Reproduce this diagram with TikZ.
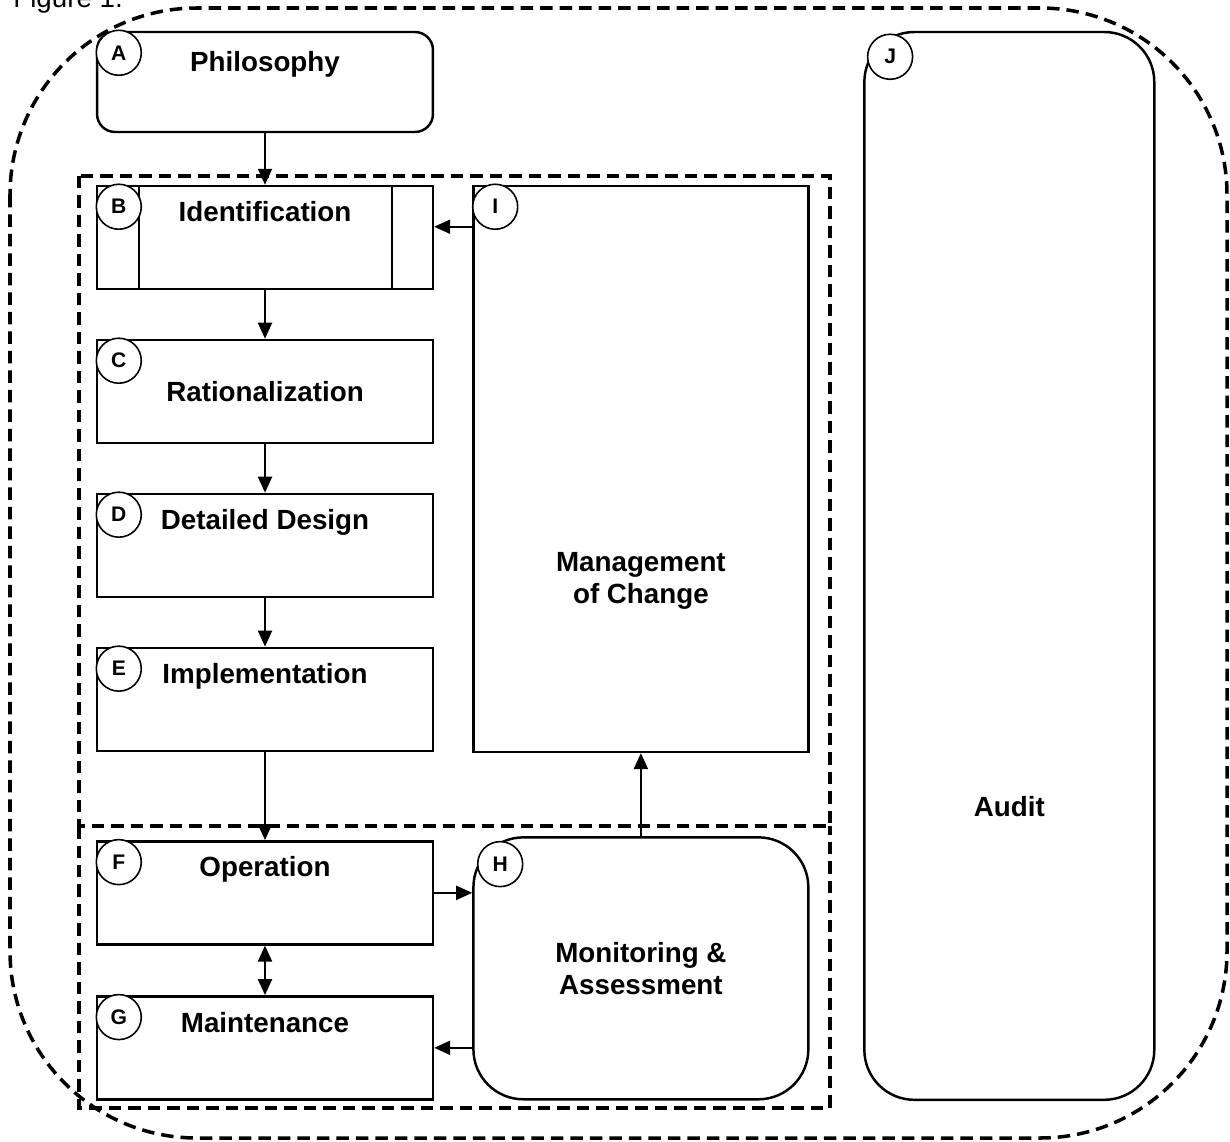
\documentclass[tikz,border=0pt]{standalone}
\usepackage{fontspec}
\setmainfont{Liberation Sans}
\usetikzlibrary{positioning,arrows.meta}

\tikzset{
  box/.style={draw, line width=1.4pt, minimum width=6.72cm, minimum height=2.06cm, inner sep=0pt},
  tag/.style={draw, circle, fill=white, line width=0.9pt, minimum size=0.9cm, inner sep=0pt, font=\bfseries\fontsize{12}{12}\selectfont},
  txt/.style={font=\bfseries\fontsize{15.8}{18.2}\selectfont, align=center},
  arr/.style={-{Triangle[length=0.32cm,width=0.28cm]}, line width=1.2pt},
  zone/.style={dash pattern=on 0.25cm off 0.14cm, line width=2pt}
}

\begin{document}
\begin{tikzpicture}[x=0.02cm, y=-0.02cm, node distance=3.08cm]
    \useasboundingbox (0,0) rectangle (1230,1142);

    % caption, cut at the top edge
    \node[anchor=base west, font=\fontsize{15.8}{18}\selectfont, inner sep=0pt] (figlbl) at (13,8) {Figure 1.};

    % dashed zones
    \draw[zone, rounded corners=3.74cm] (10,8) rectangle (1227,1138);
    \draw[zone] (79,176) rectangle (830,826);
    \draw[zone] (79,826) -- (79,1108) -- (830,1108) -- (830,826);

    % left column
    \node[box, rounded corners=0.36cm, minimum height=2cm] (phil) at (265,82) {};
    \node[box, below of=phil, node distance=3.11cm] (ident) {};
    \node[box, txt, below of=ident] (ration) {Rationalization};
    \node[box, below of=ration] (design) {};
    \node[box, below of=design] (impl) {};
    \node[box, below of=impl, node distance=3.87cm] (oper) {};
    \node[box, below of=oper, node distance=3.1cm] (maint) {};

    % side bars of the identification box
    \draw[line width=1.4pt] ([xshift=0.86cm]ident.north west) -- ([xshift=0.86cm]ident.south west);
    \draw[line width=1.4pt] ([xshift=-0.84cm]ident.north east) -- ([xshift=-0.84cm]ident.south east);

    % texts near the top of the boxes
    \node[txt, anchor=base] (philt) at ([yshift=-0.82cm]phil.north) {Philosophy};
    \node[txt, anchor=base] (identt) at ([yshift=-0.74cm]ident.north) {Identification};
    \node[txt, anchor=base] (designt) at ([yshift=-0.74cm]design.north) {Detailed Design};
    \node[txt, anchor=base] (implt) at ([yshift=-0.74cm]impl.north) {Implementation};
    \node[txt, anchor=base] (opert) at ([yshift=-0.72cm]oper.north) {Operation};
    \node[txt, anchor=base] (maintt) at ([yshift=-0.74cm]maint.north) {Maintenance};

    % right column
    \node[box, minimum width=6.7cm, minimum height=11.32cm, anchor=north west] (moc) at ([xshift=0.76cm]ident.north east) {};
    \node[txt] (moct) at ([yshift=-2.24cm]moc.center) {Management\\of Change};
    \node[box, txt, rounded corners=1cm, minimum width=6.7cm, minimum height=5.24cm, anchor=south west] (mon) at ([xshift=0.76cm]maint.south east) {Monitoring \&\\Assessment};
    \node[box, rounded corners=1cm, minimum width=5.8cm, minimum height=21.36cm, anchor=north west] (audit) at ([xshift=8.58cm]phil.north east) {};
    \node[txt] (auditt) at ([yshift=-4.82cm]audit.center) {Audit};

    % arrows
    \draw[arr] (phil) -- (ident);
    \draw[arr] (ident) -- (ration);
    \draw[arr] (ration) -- (design);
    \draw[arr] (design) -- (impl);
    \draw[arr] (impl) -- (oper);
    \draw[arr, {Triangle[length=0.32cm,width=0.28cm]}-{Triangle[length=0.32cm,width=0.28cm]}] (oper) -- (maint);
    \draw[arr] ([yshift=-0.84cm]moc.north west) -- ([yshift=-0.84cm]ident.north east);
    \draw[arr] (mon) -- (moc);
    \draw[arr] (oper.east) -- (oper.east -| mon.west);
    \draw[arr] (maint.east -| mon.west) -- (maint.east);

    % lettered circles
    \foreach \b/\l in {phil/A, ident/B, ration/C, design/D, impl/E, oper/F, maint/G, moc/I}
        \node[tag] (tag-\l) at ([xshift=0.46cm, yshift=-0.44cm]\b.north west) {\l};
    \node[tag] (tag-H) at ([xshift=0.56cm, yshift=-0.56cm]mon.north west) {H};
    \node[tag] (tag-J) at ([xshift=0.54cm, yshift=-0.52cm]audit.north west) {J};
\end{tikzpicture}
\end{document}
